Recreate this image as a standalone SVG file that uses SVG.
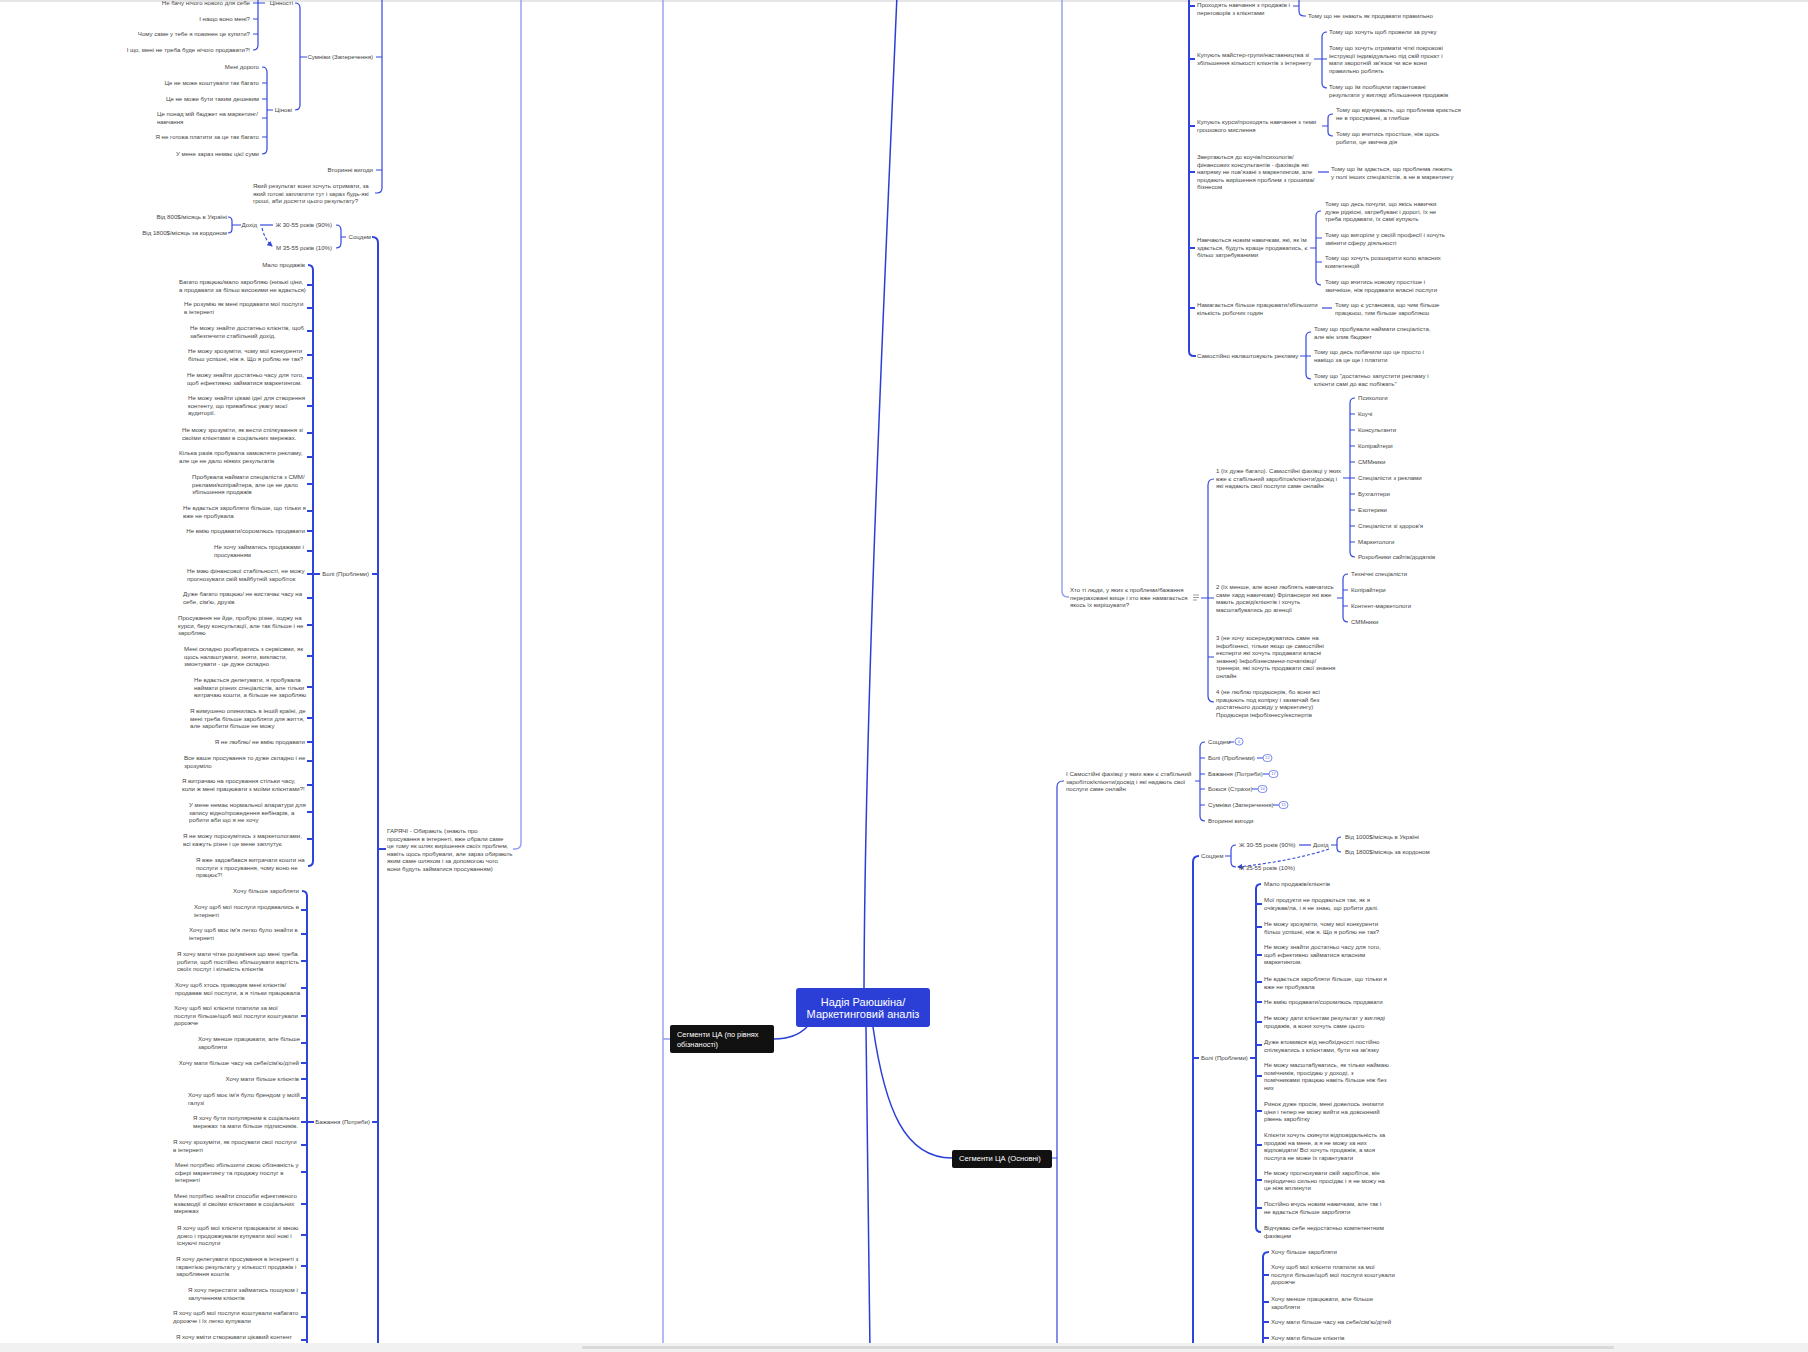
<svg xmlns="http://www.w3.org/2000/svg" width="1808" height="1352" viewBox="0 0 1808 1352">
<style>
.t{font-family:"Liberation Sans",Arial,sans-serif;font-size:6.1px;fill:#444}
.e{text-anchor:end}
.cw{font-family:"Liberation Sans",Arial,sans-serif;fill:#fff}
.s{fill:none;stroke:#3347dc;stroke-width:1.2}
.S{fill:none;stroke:#2f44da;stroke-width:2}
.l{fill:none;stroke:#909df0;stroke-width:1.4}
.m{fill:none;stroke:#2b3fd6;stroke-width:1.5}
.d{fill:none;stroke:#3347dc;stroke-width:1.1;stroke-dasharray:3 2}
.b{fill:#fff;stroke:#5b6de8;stroke-width:0.8}
.bt{font-family:"Liberation Sans",Arial,sans-serif;font-size:4px;fill:#5b6de8;text-anchor:middle}
</style>
<defs>
<marker id="ar" viewBox="0 0 6 6" refX="5" refY="3" markerWidth="5" markerHeight="5" orient="auto"><path d="M0,0 L6,3 L0,6 z" fill="#3347dc"/></marker>
</defs>
<rect width="1808" height="1352" fill="#fff"/>
<rect x="0" y="0" width="1808" height="2" fill="#e6e6e6"/>

<g id="connectors">
<path class="m" d="M864,988 C865,700 884,300 897,-5"/>
<path class="m" d="M866,1027 L870,1352"/>
<path class="m" d="M807,1027 Q795,1039 774,1039"/>
<path class="m" d="M873,1027 C885,1110 905,1158 952,1158"/>
<path class="l" d="M663,-10 V1352 M663,1039 H670"/>
<path class="l" d="M521,-10 V843 Q521,849 515,849 H513"/>
<path class="s" d="M382,-10 V188 Q382,193 377,193 H375 M382,57 H376 M382,170 H376"/>
<path class="s" d="M295,3 Q300,3 300,8 V105 Q300,110 295,110 M300,57 H307"/>
<path class="s" d="M258,-40 V45 Q258,50 253,50 M258,3 H265 M258,3 H253 M258,19 H253 M258,34 H253"/>
<path class="s" d="M262,67 Q267,67 267,72 V149 Q267,154 262,154 M267,83 H262 M267,99 H262 M267,118 H262 M267,137 H262 M267,110 H273"/>
<path class="S" d="M372,237 Q378,237 378,243 V1352 M378,574 H372 M378,849 H386 M378,1122 H372"/>
<path class="s" d="M336,225 Q341,225 341,230 V243 Q341,248 336,248 M341,237 H346"/>
<path class="s" d="M260,225 H273"/>
<path class="s" d="M228,217 Q232,217 232,221 V229 Q232,233 228,233 M232,225 H241"/>
<path class="d" d="M262,228 Q265,240 272,246" marker-end="url(#ar)"/>
<path class="S" d="M308,265 Q313,265 313,270 V861 Q313,866 308,866 M313,574 H320 M313,285 H307 M313,308 H307 M313,331 H307 M313,355 H307 M313,378 H307 M313,406 H307 M313,433 H307 M313,457 H307 M313,484 H307 M313,511 H307 M313,531 H307 M313,551 H307 M313,574 H307 M313,598 H307 M313,625 H307 M313,656 H307 M313,687 H307 M313,718 H307 M313,742 H307 M313,761 H307 M313,785 H307 M313,812 H307 M313,839 H307"/>
<path class="S" d="M302,891 Q307,891 307,896 V1352 M307,1122 H314 M307,910 H301 M307,934 H301 M307,961 H301 M307,988 H301 M307,1016 H301 M307,1043 H301 M307,1063 H301 M307,1079 H301 M307,1098 H301 M307,1122 H301 M307,1145 H301 M307,1172 H301 M307,1204 H301 M307,1235 H301 M307,1266 H301 M307,1293 H301 M307,1317 H301 M307,1340 H301"/>
<path class="l" d="M1062,-10 V591 Q1062,597 1068,597 H1069"/>
<path class="S" d="M1189,-10 V351 Q1189,356 1194,356 H1196 M1189,6 H1195 M1189,59 H1195 M1189,126 H1195 M1189,172 H1195 M1189,248 H1195 M1189,308 H1195"/>
<path class="s" d="M1299,-10 V11 Q1299,16 1304,16 H1306 M1293,6 H1299"/>
<path class="s" d="M1327,32 Q1322,32 1322,37 V83 Q1322,88 1327,88 M1322,59 H1327 M1314,59 H1322"/>
<path class="s" d="M1333,114 Q1328,114 1328,118 V132 Q1328,136 1333,136 M1322,126 H1328"/>
<path class="s" d="M1318,172 H1329"/>
<path class="s" d="M1321,211 Q1316,211 1316,216 V280 Q1316,285 1321,285 M1316,238 H1322 M1316,262 H1322 M1310,248 H1316"/>
<path class="s" d="M1322,308 H1332"/>
<path class="s" d="M1311,332 Q1306,332 1306,337 V374 Q1306,379 1311,379 M1306,356 H1311 M1300,356 H1306"/>
<path class="s" d="M1201,598 H1208 M1214,479 Q1208,479 1208,485 V696 Q1208,702 1214,702 M1208,598 H1214 M1208,657 H1214"/>
<path class="s" d="M1355,398 Q1350,398 1350,403 V552 Q1350,557 1355,557 M1343,478 H1350 M1350,414 H1355 M1350,430 H1355 M1350,446 H1355 M1350,462 H1355 M1350,478 H1355 M1350,494 H1355 M1350,510 H1355 M1350,526 H1355 M1350,542 H1355"/>
<path class="s" d="M1348,574 Q1343,574 1343,579 V617 Q1343,622 1348,622 M1337,598 H1343 M1343,590 H1348 M1343,606 H1348"/>
<path class="s" d="M1064,781 H1063 Q1057,781 1057,787 V1352 M1052,1158 H1057"/>
<path class="s" d="M1205,742 Q1200,742 1200,747 V816 Q1200,821 1205,821 M1195,781 H1200 M1200,758 H1205 M1200,774 H1205 M1200,789 H1205 M1200,805 H1205"/>
<path class="s" d="M1229,742 H1234 M1257,758 H1263 M1263,774 H1269 M1252,789 H1258 M1273,805 H1279"/>
<path class="S" d="M1199,856 Q1193,856 1193,862 V1352 M1193,1058 H1199"/>
<path class="s" d="M1236,845 Q1231,845 1231,850 V862 Q1231,867 1236,867 M1225,856 H1231"/>
<path class="s" d="M1299,845 H1311"/>
<path class="s" d="M1341,837 Q1337,837 1337,841 V848 Q1337,852 1341,852 M1331,845 H1337"/>
<path class="d" d="M1329,849 Q1292,861 1238,867" marker-end="url(#ar)"/>
<path class="S" d="M1261,884 Q1256,884 1256,889 V1227 Q1256,1232 1261,1232 M1250,1058 H1256 M1256,904 H1262 M1256,927 H1262 M1256,955 H1262 M1256,982 H1262 M1256,1002 H1262 M1256,1022 H1262 M1256,1045 H1262 M1256,1076 H1262 M1256,1111 H1262 M1256,1145 H1262 M1256,1180 H1262 M1256,1208 H1262"/>
<path class="S" d="M1269,1252 Q1263,1252 1263,1257 V1352 M1263,1275 H1269 M1263,1302 H1269 M1263,1322 H1269 M1263,1338 H1269"/>
</g>

<g id="center">
<rect x="796" y="988" width="134" height="39" rx="3" fill="#2b3fd6"/>
<text class="cw" font-size="11" text-anchor="middle" x="863" y="1005.5">Надія Раюшкіна/</text>
<text class="cw" font-size="11" text-anchor="middle" x="863" y="1018">Маркетинговий аналіз</text>
</g>
<g id="seg_levels">
<rect x="670" y="1025" width="104" height="28" rx="2" fill="#111"/>
<text class="cw" font-size="7.4" x="677" y="1036.6">Сегменти ЦА (по рівнях</text>
<text class="cw" font-size="7.4" x="677" y="1047.3">обізнаності)</text>
</g>
<g id="seg_main">
<rect x="952" y="1150" width="100" height="18" rx="2" fill="#111"/>
<text class="cw" font-size="7.6" x="959" y="1160.8">Сегменти ЦА (Основні)</text>
</g>

<g id="l_values"><text class="t e" x="293" y="5">Цінності</text></g>
<g id="l_v1"><text class="t e" x="250" y="5">Не бачу нічого нового для себе</text></g>
<g id="l_v2"><text class="t e" x="250" y="21">І нащо воно мені?</text></g>
<g id="l_v3"><text class="t e" x="250" y="36">Чому саме у тебе я повинен це купити?</text></g>
<g id="l_v4"><text class="t e" x="250" y="52">І що, мені не треба буде нічого продавати?!</text></g>
<g id="l_price"><text class="t e" x="292" y="112">Цінові</text></g>
<g id="l_p1"><text class="t e" x="259" y="69">Мені дорого</text></g>
<g id="l_p2"><text class="t e" x="259" y="85">Це не може коштувати так багато</text></g>
<g id="l_p3"><text class="t e" x="259" y="101">Це не може бути таким дешевим</text></g>
<g id="l_p4"><text class="t" x="157" y="116">Це понад мій бюджет на маркетинг/<tspan x="157" dy="7.6">навчання</tspan></text></g>
<g id="l_p5"><text class="t e" x="259" y="139">Я не готова платити за це так багато</text></g>
<g id="l_p6"><text class="t e" x="259" y="156">У мене зараз немає цієї суми</text></g>
<g id="l_doubts"><text class="t e" x="373" y="59">Сумніви (Заперечення)</text></g>
<g id="l_secondary"><text class="t e" x="373" y="172">Вторинні вигоди</text></g>
<g id="l_result"><text class="t" x="253" y="188">Який результат вони хочуть отримати, за<tspan x="253" dy="7.6">який готові заплатити тут і зараз будь-які</tspan><tspan x="253" dy="7.6">гроші, аби досягти цього результату?</tspan></text></g>

<g id="l_socdem"><text class="t e" x="371" y="239">Соцдем</text></g>
<g id="l_f"><text class="t e" x="332" y="227">Ж 30-55 років (90%)</text></g>
<g id="l_m"><text class="t e" x="332" y="250">М 35-55 років (10%)</text></g>
<g id="l_income"><text class="t e" x="257" y="227">Дохід</text></g>
<g id="l_i1"><text class="t e" x="227" y="219">Від 800$/місяць в Україні</text></g>
<g id="l_i2"><text class="t e" x="227" y="235">Від 1800$/місяць за кордоном</text></g>

<g id="l_pains"><text class="t e" x="369" y="576">Болі (Проблеми)</text></g>
<g id="lp1"><text class="t e" x="305" y="267">Мало продажів</text></g>
<g id="lp2"><text class="t" x="179" y="284">Багато працюю/мало заробляю (низькі ціни,<tspan x="179" dy="7.6">а продавати за більш високими не вдається)</tspan></text></g>
<g id="lp3"><text class="t" x="184" y="306">Не розумію як мені продавати мої послуги<tspan x="184" dy="7.6">в інтернеті</tspan></text></g>
<g id="lp4"><text class="t" x="190" y="330">Не можу знайти достатньо клієнтів, щоб<tspan x="190" dy="7.6">забезпечити стабільний дохід.</tspan></text></g>
<g id="lp5"><text class="t" x="188" y="353">Не можу зрозуміти, чому мої конкуренти<tspan x="188" dy="7.6">більш успішні, ніж я. Що я роблю не так?</tspan></text></g>
<g id="lp6"><text class="t" x="187" y="377">Не можу знайти достатньо часу для того,<tspan x="187" dy="7.6">щоб ефективно займатися маркетингом.</tspan></text></g>
<g id="lp7"><text class="t" x="188" y="400">Не можу знайти цікаві ідеї для створення<tspan x="188" dy="7.6">контенту, що приваблює увагу моєї</tspan><tspan x="188" dy="7.6">аудиторії.</tspan></text></g>
<g id="lp8"><text class="t" x="182" y="432">Не можу зрозуміти, як вести спілкування зі<tspan x="182" dy="7.6">своїми клієнтами в соціальних мережах.</tspan></text></g>
<g id="lp9"><text class="t" x="179" y="455">Кілька разів пробувала замовляти рекламу,<tspan x="179" dy="7.6">але це не дало ніяких результатів</tspan></text></g>
<g id="lp10"><text class="t" x="192" y="479">Пробувала наймати спеціаліста з СММ/<tspan x="192" dy="7.6">реклами/копірайтера, але це не дало</tspan><tspan x="192" dy="7.6">збільшення продажів</tspan></text></g>
<g id="lp11"><text class="t" x="183" y="510">Не вдається заробляти більше, що тільки я<tspan x="183" dy="7.6">вже не пробувала</tspan></text></g>
<g id="lp12"><text class="t e" x="305" y="533">Не вмію продавати/соромлюсь продавати</text></g>
<g id="lp13"><text class="t" x="214" y="549">Не хочу займатись продажами і<tspan x="214" dy="7.6">просуванням</tspan></text></g>
<g id="lp14"><text class="t" x="187" y="573">Не маю фінансової стабільності, не можу<tspan x="187" dy="7.6">прогнозувати свій майбутній заробіток</tspan></text></g>
<g id="lp15"><text class="t" x="183" y="596">Дуже багато працюю/ не вистачає часу на<tspan x="183" dy="7.6">себе, сім'ю, друзів</tspan></text></g>
<g id="lp16"><text class="t" x="178" y="620">Просування не йде, пробую різне, ходжу на<tspan x="178" dy="7.6">курси, беру консультації, але так більше і не</tspan><tspan x="178" dy="7.6">заробляю</tspan></text></g>
<g id="lp17"><text class="t" x="184" y="651">Мені складно розбиратись з сервісами, як<tspan x="184" dy="7.6">щось налаштувати, зняти, викласти,</tspan><tspan x="184" dy="7.6">змонтувати - це дуже складно</tspan></text></g>
<g id="lp18"><text class="t" x="194" y="682">Не вдається делегувати, я пробувала<tspan x="194" dy="7.6">наймати різних спеціалістів, але тільки</tspan><tspan x="194" dy="7.6">витрачаю кошти, а більше не заробляю</tspan></text></g>
<g id="lp19"><text class="t" x="190" y="713">Я вимушено опинилась в іншій країні, де<tspan x="190" dy="7.6">мені треба більше заробляти для життя,</tspan><tspan x="190" dy="7.6">але заробити більше не можу</tspan></text></g>
<g id="lp20"><text class="t e" x="305" y="744">Я не люблю/ не вмію продавати</text></g>
<g id="lp21"><text class="t" x="184" y="760">Все ваше просування то дуже складно і не<tspan x="184" dy="7.6">зрозуміло</tspan></text></g>
<g id="lp22"><text class="t" x="182" y="783">Я витрачаю на просування стільки часу,<tspan x="182" dy="7.6">коли ж мені працювати з моїми клієнтами?!</tspan></text></g>
<g id="lp23"><text class="t" x="189" y="807">У мене немає нормальної апаратури для<tspan x="189" dy="7.6">запису відео/проведення вебінарів, а</tspan><tspan x="189" dy="7.6">робити аби що я не хочу</tspan></text></g>
<g id="lp24"><text class="t" x="183" y="838">Я не можу порозумітись з маркетологами,<tspan x="183" dy="7.6">всі кажуть різне і це мене заплутує</tspan></text></g>
<g id="lp25"><text class="t" x="196" y="862">Я вже задовбався витрачати кошти на<tspan x="196" dy="7.6">послуги з просування, чому воно не</tspan><tspan x="196" dy="7.6">працює?!</tspan></text></g>

<g id="l_hot"><text class="t" x="387" y="833">ГАРЯЧІ - Обирають (знають про<tspan x="387" dy="7.6">просування в інтернеті, вже обрали саме</tspan><tspan x="387" dy="7.6">це тому як шлях вирішення своїх проблем,</tspan><tspan x="387" dy="7.6">навіть щось пробували, але зараз обирають</tspan><tspan x="387" dy="7.6">яким саме шляхом і за допомогою чого</tspan><tspan x="387" dy="7.6">вони будуть займатися просуванням)</tspan></text></g>

<g id="l_desires"><text class="t e" x="370" y="1124">Бажання (Потреби)</text></g>
<g id="ld1"><text class="t e" x="299" y="893">Хочу більше заробляти</text></g>
<g id="ld2"><text class="t" x="194" y="909">Хочу щоб мої послуги продавались в<tspan x="194" dy="7.6">інтернеті</tspan></text></g>
<g id="ld3"><text class="t" x="189" y="932">Хочу щоб моє ім'я легко було знайти в<tspan x="189" dy="7.6">інтернеті</tspan></text></g>
<g id="ld4"><text class="t" x="177" y="956">Я хочу мати чітке розуміння що мені треба<tspan x="177" dy="7.6">робити, щоб постійно збільшувати вартість</tspan><tspan x="177" dy="7.6">своїх послуг і кількість клієнтів</tspan></text></g>
<g id="ld5"><text class="t" x="175" y="987">Хочу щоб хтось приводив мені клієнтів/<tspan x="175" dy="7.6">продавав мої послуги, а я тільки працювала</tspan></text></g>
<g id="ld6"><text class="t" x="174" y="1010">Хочу щоб мої клієнти платили за мої<tspan x="174" dy="7.6">послуги більше/щоб мої послуги коштували</tspan><tspan x="174" dy="7.6">дорожче</tspan></text></g>
<g id="ld7"><text class="t" x="198" y="1041">Хочу менше працювати, але більше<tspan x="198" dy="7.6">заробляти</tspan></text></g>
<g id="ld8"><text class="t e" x="299" y="1065">Хочу мати більше часу на себе/сім'ю/дітей</text></g>
<g id="ld9"><text class="t e" x="299" y="1081">Хочу мати більше клієнтів</text></g>
<g id="ld10"><text class="t" x="188" y="1097">Хочу щоб моє ім'я було брендом у моїй<tspan x="188" dy="7.6">галузі</tspan></text></g>
<g id="ld11"><text class="t" x="193" y="1120">Я хочу бути популярним в соціальних<tspan x="193" dy="7.6">мережах та мати більше підписників.</tspan></text></g>
<g id="ld12"><text class="t" x="173" y="1144">Я хочу зрозуміти, як просувати свої послуги<tspan x="173" dy="7.6">в інтернеті</tspan></text></g>
<g id="ld13"><text class="t" x="175" y="1167">Мені потрібно збільшити свою обізнаність у<tspan x="175" dy="7.6">сфері маркетингу та продажу послуг в</tspan><tspan x="175" dy="7.6">інтернеті</tspan></text></g>
<g id="ld14"><text class="t" x="174" y="1198">Мені потрібно знайти способи ефективного<tspan x="174" dy="7.6">взаємодії зі своїми клієнтами в соціальних</tspan><tspan x="174" dy="7.6">мережах</tspan></text></g>
<g id="ld15"><text class="t" x="177" y="1230">Я хочу щоб мої клієнти працювали зі мною<tspan x="177" dy="7.6">довго і продовжували купувати мої нові і</tspan><tspan x="177" dy="7.6">існуючі послуги</tspan></text></g>
<g id="ld16"><text class="t" x="176" y="1261">Я хочу делегувати просування в інтернеті з<tspan x="176" dy="7.6">гарантією результату у кількості продажів і</tspan><tspan x="176" dy="7.6">заробляння коштів</tspan></text></g>
<g id="ld17"><text class="t" x="188" y="1292">Я хочу перестати займатись пошуком і<tspan x="188" dy="7.6">залученням клієнтів</tspan></text></g>
<g id="ld18"><text class="t" x="173" y="1315">Я хочу щоб мої послуги коштували набагато<tspan x="173" dy="7.6">дорожче і їх легко купували</tspan></text></g>
<g id="ld19"><text class="t" x="176" y="1339">Я хочу вміти створювати цікавий контент</text></g>

<g id="r_a"><text class="t" x="1197" y="7">Проходять навчання з продажів і<tspan x="1197" dy="7.6">переговорів з клієнтами</tspan></text></g>
<g id="r_a1"><text class="t" x="1308" y="18">Тому що не знають як продавати правильно</text></g>
<g id="r_b"><text class="t" x="1197" y="57">Купують майстер-групи/наставництва зі<tspan x="1197" dy="7.6">збільшення кількості клієнтів з інтернету</tspan></text></g>
<g id="r_b1"><text class="t" x="1329" y="34">Тому що хочуть щоб провели за ручку</text></g>
<g id="r_b2"><text class="t" x="1329" y="50">Тому що хочуть отримати чіткі покрокові<tspan x="1329" dy="7.6">інструкції індивідуально під свій проєкт і</tspan><tspan x="1329" dy="7.6">мати зворотній зв'язок чи все вони</tspan><tspan x="1329" dy="7.6">правильно роблять</tspan></text></g>
<g id="r_b3"><text class="t" x="1329" y="89">Тому що їм пообіцяли гарантовані<tspan x="1329" dy="7.6">результати у вигляді збільшення продажів</tspan></text></g>
<g id="r_c"><text class="t" x="1197" y="124">Купують курси/проходять навчання з теми<tspan x="1197" dy="7.6">грошового мислення</tspan></text></g>
<g id="r_c1"><text class="t" x="1336" y="112">Тому що відчувають, що проблема криється<tspan x="1336" dy="7.6">не в просуванні, а глибше</tspan></text></g>
<g id="r_c2"><text class="t" x="1336" y="136">Тому що вчитись простіше, ніж щось<tspan x="1336" dy="7.6">робити, це звична дія</tspan></text></g>
<g id="r_d"><text class="t" x="1197" y="159">Звертаються до коучів/психологів/<tspan x="1197" dy="7.6">фінансових консультантів - фахівців які</tspan><tspan x="1197" dy="7.6">напряму не пов'язані з маркетингом, але</tspan><tspan x="1197" dy="7.6">продають вирішення проблем з грошима/</tspan><tspan x="1197" dy="7.6">бізнесом</tspan></text></g>
<g id="r_d1"><text class="t" x="1331" y="171">Тому що їм здається, що проблема лежить<tspan x="1331" dy="7.6">у полі інших спеціалістів, а не в маркетингу</tspan></text></g>
<g id="r_e"><text class="t" x="1197" y="242">Навчаються новим навичкам, які, як їм<tspan x="1197" dy="7.6">здається, будуть краще продаватись, є</tspan><tspan x="1197" dy="7.6">більш затребуваними</tspan></text></g>
<g id="r_e1"><text class="t" x="1325" y="206">Тому що десь почули, що якісь навички<tspan x="1325" dy="7.6">дуже рідкісні, затребувані і дорогі, їх не</tspan><tspan x="1325" dy="7.6">треба продавати, їх самі купують</tspan></text></g>
<g id="r_e2"><text class="t" x="1325" y="237">Тому що вигоріли у своїй професії і хочуть<tspan x="1325" dy="7.6">змінити сферу діяльності</tspan></text></g>
<g id="r_e3"><text class="t" x="1325" y="260">Тому що хочуть розширити коло власних<tspan x="1325" dy="7.6">компетенцій</tspan></text></g>
<g id="r_e4"><text class="t" x="1325" y="284">Тому що вчитись новому простіше і<tspan x="1325" dy="7.6">звичніше, ніж продавати власні послуги</tspan></text></g>
<g id="r_f"><text class="t" x="1197" y="307">Намагається більше працювати/збільшити<tspan x="1197" dy="7.6">кількість робочих годин</tspan></text></g>
<g id="r_f1"><text class="t" x="1335" y="307">Тому що є установка, що чим більше<tspan x="1335" dy="7.6">працюєш, тим більше заробляєш</tspan></text></g>
<g id="r_g"><text class="t" x="1197" y="358">Самостійно налаштовують рекламу</text></g>
<g id="r_g1"><text class="t" x="1314" y="331">Тому що пробували наймати спеціаліста,<tspan x="1314" dy="7.6">але він злив бюджет</tspan></text></g>
<g id="r_g2"><text class="t" x="1314" y="354">Тому що десь побачили що це просто і<tspan x="1314" dy="7.6">навіщо за це ще і платити</tspan></text></g>
<g id="r_g3"><text class="t" x="1314" y="378">Тому що "достатньо запустити рекламу і<tspan x="1314" dy="7.6">клієнти самі до вас побіжать"</tspan></text></g>

<g id="r_who"><text class="t" x="1070" y="592">Хто ті люди, у яких є проблеми/бажання<tspan x="1070" dy="7.6">перераховані вище і хто вже намагається</tspan><tspan x="1070" dy="7.6">якось їх вирішувати?</tspan>
</text><path d="M1193,595 H1199 M1193,597.5 H1199 M1193,600 H1197" stroke="#777" stroke-width="0.7" fill="none"/></g>
<g id="r_g_1"><text class="t" x="1216" y="473">1 (їх дуже багато). Самостійні фахівці у яких<tspan x="1216" dy="7.6">вже є стабільний заробіток/клієнти/досвід і</tspan><tspan x="1216" dy="7.6">які надають свої послуги саме онлайн</tspan></text></g>
<g id="r_p1"><text class="t" x="1358" y="400">Психологи</text></g>
<g id="r_p2"><text class="t" x="1358" y="416">Коучі</text></g>
<g id="r_p3"><text class="t" x="1358" y="432">Консультанти</text></g>
<g id="r_p4"><text class="t" x="1358" y="448">Копірайтери</text></g>
<g id="r_p5"><text class="t" x="1358" y="464">СММники</text></g>
<g id="r_p6"><text class="t" x="1358" y="480">Спеціалісти з реклами</text></g>
<g id="r_p7"><text class="t" x="1358" y="496">Бухгалтери</text></g>
<g id="r_p8"><text class="t" x="1358" y="512">Езотерики</text></g>
<g id="r_p9"><text class="t" x="1358" y="528">Спеціалісти зі здоров'я</text></g>
<g id="r_p10"><text class="t" x="1358" y="544">Маркетологи</text></g>
<g id="r_p11"><text class="t" x="1358" y="559">Розробники сайтів/додатків</text></g>
<g id="r_g_2"><text class="t" x="1216" y="589">2 (їх менше, але вони люблять навчатись<tspan x="1216" dy="7.6">саме хард навичкам) Фрілансери які вже</tspan><tspan x="1216" dy="7.6">мають досвід/клієнтів і хочуть</tspan><tspan x="1216" dy="7.6">масштабуватись до агенції</tspan></text></g>
<g id="r_q1"><text class="t" x="1351" y="576">Технічні спеціалісти</text></g>
<g id="r_q2"><text class="t" x="1351" y="592">Копірайтери</text></g>
<g id="r_q3"><text class="t" x="1351" y="608">Контент-маркетологи</text></g>
<g id="r_q4"><text class="t" x="1351" y="624">СММники</text></g>
<g id="r_g_3"><text class="t" x="1216" y="640">3 (не хочу зосереджуватись саме на<tspan x="1216" dy="7.6">інфобізнесі, тільки якщо це самостійні</tspan><tspan x="1216" dy="7.6">експерти які хочуть продавати власні</tspan><tspan x="1216" dy="7.6">знання) Інфобізнесмени-початківці/</tspan><tspan x="1216" dy="7.6">тренери, які хочуть продавати свої знання</tspan><tspan x="1216" dy="7.6">онлайн</tspan></text></g>
<g id="r_g_4"><text class="t" x="1216" y="694">4 (не люблю продюсерів, бо вони всі<tspan x="1216" dy="7.6">працюють под копірку і зазвичай без</tspan><tspan x="1216" dy="7.6">достатнього досвіду у маркетингу)</tspan><tspan x="1216" dy="7.6">Продюсери інфобізнесу/експертів</tspan></text></g>

<g id="r_seg1"><text class="t" x="1066" y="776">І Самостійні фахівці у яких вже є стабільний<tspan x="1066" dy="7.6">заробіток/клієнти/досвід і які надають свої</tspan><tspan x="1066" dy="7.6">послуги саме онлайн</tspan></text></g>
<g id="r_s1"><text class="t" x="1208" y="744">Соцдем</text><rect class="b" x="1235" y="738" width="8" height="7" rx="3.5"/><text class="bt" x="1239" y="742.8">6</text></g>
<g id="r_s2"><text class="t" x="1208" y="760">Болі (Проблеми)</text><rect class="b" x="1263" y="754.5" width="9" height="7" rx="3.5"/><text class="bt" x="1267.5" y="759.3">22</text></g>
<g id="r_s3"><text class="t" x="1208" y="776">Бажання (Потреби)</text><rect class="b" x="1269" y="770.5" width="9" height="7" rx="3.5"/><text class="bt" x="1273.5" y="775.3">17</text></g>
<g id="r_s4"><text class="t" x="1208" y="791">Боюся (Страхи)</text><rect class="b" x="1258" y="785.5" width="9" height="7" rx="3.5"/><text class="bt" x="1262.5" y="790.3">14</text></g>
<g id="r_s5"><text class="t" x="1208" y="807">Сумніви (Заперечення)</text><rect class="b" x="1279" y="801.5" width="9" height="7" rx="3.5"/><text class="bt" x="1283.5" y="806.3">15</text></g>
<g id="r_s6"><text class="t" x="1208" y="823">Вторинні вигоди</text></g>

<g id="r_socdem"><text class="t" x="1201" y="858">Соцдем</text></g>
<g id="r_f30"><text class="t" x="1239" y="847">Ж 30-55 років (90%)</text></g>
<g id="r_m35"><text class="t" x="1239" y="870">М 35-55 років (10%)</text></g>
<g id="r_inc"><text class="t" x="1313" y="847">Дохід</text></g>
<g id="r_inc1"><text class="t" x="1345" y="839">Від 1000$/місяць в Україні</text></g>
<g id="r_inc2"><text class="t" x="1345" y="854">Від 1800$/місяць за кордоном</text></g>

<g id="r_pains"><text class="t" x="1201" y="1060">Болі (Проблеми)</text></g>
<g id="rp1"><text class="t" x="1264" y="886">Мало продажів/клієнтів</text></g>
<g id="rp2"><text class="t" x="1264" y="902">Мої продукти не продаються так, як я<tspan x="1264" dy="7.6">очікував/ла, і я не знаю, що робити далі.</tspan></text></g>
<g id="rp3"><text class="t" x="1264" y="926">Не можу зрозуміти, чому мої конкуренти<tspan x="1264" dy="7.6">більш успішні, ніж я. Що я роблю не так?</tspan></text></g>
<g id="rp4"><text class="t" x="1264" y="949">Не можу знайти достатньо часу для того,<tspan x="1264" dy="7.6">щоб ефективно займатися власним</tspan><tspan x="1264" dy="7.6">маркетингом.</tspan></text></g>
<g id="rp5"><text class="t" x="1264" y="981">Не вдається заробляти більше, що тільки я<tspan x="1264" dy="7.6">вже не пробувала</tspan></text></g>
<g id="rp6"><text class="t" x="1264" y="1004">Не вмію продавати/соромлюсь продавати</text></g>
<g id="rp7"><text class="t" x="1264" y="1020">Не можу дати клієнтам результат у вигляді<tspan x="1264" dy="7.6">продажів, а вони хочуть саме цього</tspan></text></g>
<g id="rp8"><text class="t" x="1264" y="1044">Дуже втомився від необхідності постійно<tspan x="1264" dy="7.6">спілкуватись з клієнтами, бути на зв'язку</tspan></text></g>
<g id="rp9"><text class="t" x="1264" y="1067">Не можу масштабуватись, як тільки наймаю<tspan x="1264" dy="7.6">помічників, просідаю у доході, з</tspan><tspan x="1264" dy="7.6">помічниками працюю навіть більше ніж без</tspan><tspan x="1264" dy="7.6">них</tspan></text></g>
<g id="rp10"><text class="t" x="1264" y="1106">Ринок дуже просів, мені довелось знизити<tspan x="1264" dy="7.6">ціни і тепер не можу вийти на довоєнний</tspan><tspan x="1264" dy="7.6">рівень заробітку</tspan></text></g>
<g id="rp11"><text class="t" x="1264" y="1137">Клієнти хочуть скинути відповідальність за<tspan x="1264" dy="7.6">продажі на мене, а я не можу за них</tspan><tspan x="1264" dy="7.6">відповідати/ Всі хочуть продажів, а моя</tspan><tspan x="1264" dy="7.6">послуга не може їх гарантувати</tspan></text></g>
<g id="rp12"><text class="t" x="1264" y="1175">Не можу прогнозувати свій заробіток, він<tspan x="1264" dy="7.6">періодично сильно просідає і я не можу на</tspan><tspan x="1264" dy="7.6">це ніяк вплинути</tspan></text></g>
<g id="rp13"><text class="t" x="1264" y="1206">Постійно вчусь новим навичкам, але так і<tspan x="1264" dy="7.6">не вдається більше заробляти</tspan></text></g>
<g id="rp14"><text class="t" x="1264" y="1230">Відчуваю себе недостатньо компетентним<tspan x="1264" dy="7.6">фахівцем</tspan></text></g>
<g id="rd1"><text class="t" x="1271" y="1254">Хочу більше заробляти</text></g>
<g id="rd2"><text class="t" x="1271" y="1269">Хочу щоб мої клієнти платили за мої<tspan x="1271" dy="7.6">послуги більше/щоб мої послуги коштували</tspan><tspan x="1271" dy="7.6">дорожче</tspan></text></g>
<g id="rd3"><text class="t" x="1271" y="1301">Хочу менше працювати, але більше<tspan x="1271" dy="7.6">заробляти</tspan></text></g>
<g id="rd4"><text class="t" x="1271" y="1324">Хочу мати більше часу на себе/сім'ю/дітей</text></g>
<g id="rd5"><text class="t" x="1271" y="1340">Хочу мати більше клієнтів</text></g>

<rect x="0" y="1343" width="1808" height="9" fill="#f1f1f1"/>
<rect x="582" y="1346" width="1032" height="3" rx="1.5" fill="#d9d9d9"/>
</svg>
